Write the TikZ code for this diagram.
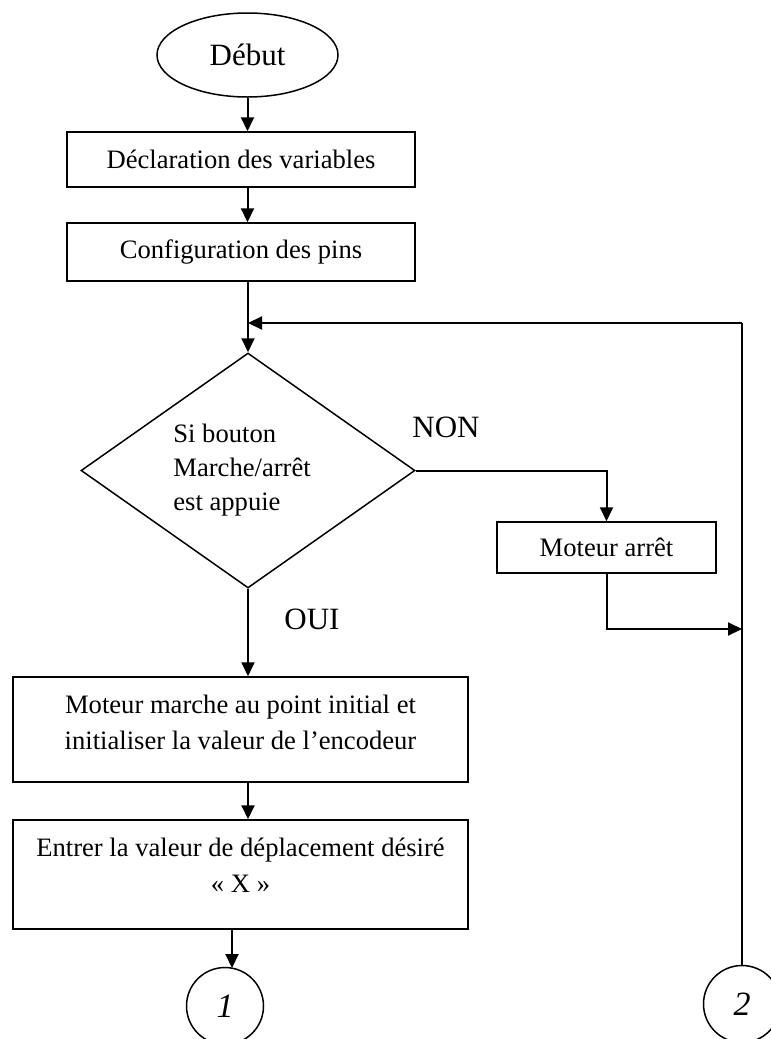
\documentclass[tikz,border=0pt]{standalone}
\usepackage{fontspec}
\setmainfont{Liberation Serif}
\usetikzlibrary{shapes.geometric,arrows.meta}

\begin{document}
\begin{tikzpicture}[x=0.5pt,y=-0.5pt,
  box/.style={draw,line width=0.75pt,inner sep=0pt,font=\fontsize{13.3}{18}\selectfont},
  txt/.style={align=center,inner sep=0pt,font=\fontsize{13.3}{18}\selectfont},
  arr/.style={line width=1pt,-{Triangle[length=7pt,width=6.5pt]}},
  ln/.style={line width=1pt},
  big/.style={font=\fontsize{15.5}{18}\selectfont},
  conn/.style={draw,circle,line width=0.75pt,minimum size=38.5pt,inner sep=0pt,
    font=\fontsize{17}{18}\selectfont\itshape}
]
\useasboundingbox (0,0) rectangle (771,1039);

% start
\node[draw,ellipse,line width=0.75pt,minimum width=90.5pt,minimum height=42pt,
      inner sep=0pt,big] (debut) at (247.5,55) {Début};

% initialisation blocks
\node[box,minimum width=174pt,minimum height=27.5pt] (decl) at (241,159.5) {Déclaration des variables};
\node[box,minimum width=174pt,minimum height=29pt] (conf) at (241,252) {Configuration des pins};

% test
\node[diamond,draw,line width=0.75pt,minimum width=167pt,minimum height=117.5pt,
      inner sep=0pt] (cond) at (248,470.5) {};
\node[anchor=west,align=left,inner sep=0pt,font=\fontsize{13.3}{17}\selectfont]
      (condtxt) at (173,470) {Si bouton\\Marche/arrêt\\est appuie};
\node[big] (non) at (446,427) {NON};
\node[big] (oui) at (312,619) {OUI};

% motor stop branch
\node[box,minimum width=109.5pt,minimum height=25.5pt] (stop) at (606.5,547.5) {Moteur arrêt};

% main branch
\node[box,minimum width=227.5pt,minimum height=52.5pt] (init) at (240.5,729.5) {};
\node[txt] (inittxt) at (240.5,722) {Moteur marche au point initial et\\initialiser la valeur de l’encodeur};
\node[box,minimum width=227.5pt,minimum height=54.5pt] (entry) at (240.5,874.5) {};
\node[txt] (entrytxt) at (240.5,865) {Entrer la valeur de déplacement désiré\\« X »};

% connectors
\node[conn] (c1) at (225,1006) {1};
\node[conn] (c2) at (742,1004) {2};

% routing points
\coordinate (rtop) at (742,323);
\coordinate (join) at (742,629);
\coordinate (c1top) at (232,968);

% arrows
\draw[arr] (debut.south) -- (debut.south |- decl.north);
\draw[arr] (decl.south -| debut.south) -- (conf.north -| debut.south);
\draw[arr] (conf.south -| cond.north) -- (cond.north);
\draw[arr] (rtop) -- (rtop -| cond.north);
\draw[ln] (rtop) -- (c2.north);
\draw[arr] (cond.east) -| (stop.north);
\draw[arr] (stop.south) |- (join);
\draw[arr] (cond.south) -- (cond.south |- init.north);
\draw[arr] (init.south -| cond.south) -- (entry.north -| cond.south);
\draw[arr] (c1top |- entry.south) -- (c1top);
\end{tikzpicture}
\end{document}
